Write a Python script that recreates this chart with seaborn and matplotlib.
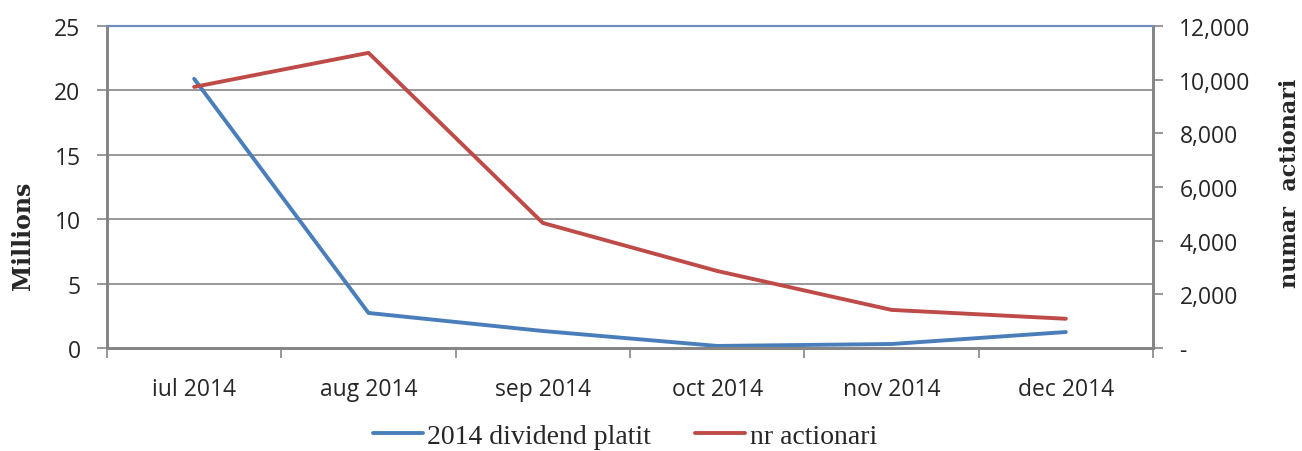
import matplotlib
matplotlib.use("Agg")
import matplotlib.pyplot as plt
import seaborn as sns
import pandas as pd
from matplotlib.ticker import FuncFormatter, FixedLocator

months = ["iul 2014", "aug 2014", "sep 2014", "oct 2014", "nov 2014", "dec 2014"]
dividend_millions = [20.9, 2.72, 1.32, 0.16, 0.31, 1.24]
nr_actionari = [9730, 11000, 4660, 2870, 1420, 1090]

sns.set_theme(style="white")
plt.rcParams['font.family'] = ['Open Sans', 'DejaVu Sans']

blue = "#4A7EBB"
red = "#BE4B48"
grid_gray = "#868686"

fig = plt.figure(figsize=(13.02, 4.52), dpi=100)
ax = fig.add_axes([107/1302, 1 - 349/452, (1153-107)/1302, (349-27)/452])
ax2 = ax.twinx()

df = pd.DataFrame({"month": months, "div": dividend_millions, "act": nr_actionari})
sns.lineplot(data=df, x="month", y="div", ax=ax, color=blue, lw=2.8, sort=False, label="2014 dividend platit", legend=False)
sns.lineplot(data=df, x="month", y="act", ax=ax2, color=red, lw=2.8, sort=False, label="nr actionari", legend=False)

ax.set_xlim(-0.5, 5.5)
ax.set_ylim(0, 25)
ax2.set_ylim(0, 12000)
ax.set_yticks([0, 5, 10, 15, 20, 25])
ax2.set_yticks([0, 2000, 4000, 6000, 8000, 10000, 12000])
ax2.yaxis.set_major_formatter(FuncFormatter(lambda v, p: "-" if v == 0 else f"{int(v):,}"))

ax.grid(axis="y", color=grid_gray, lw=1.2)
ax.grid(axis="x", visible=False)
ax2.grid(False)

ax.set_xticks(range(6))
ax.set_xticklabels(months)
ax.tick_params(axis="x", which="major", length=0, pad=21, labelsize=16.5)
ax.xaxis.set_minor_locator(FixedLocator([-0.5, 0.5, 1.5, 2.5, 3.5, 4.5, 5.5]))
ax.tick_params(axis="x", which="minor", bottom=True, length=7, width=1.2, color=grid_gray, direction="out")
ax.tick_params(axis="y", length=7, width=1.2, color=grid_gray, direction="out", labelsize=16.5, pad=12, left=True)
ax2.tick_params(axis="y", length=7, width=1.2, color=grid_gray, direction="out", labelsize=16.5, pad=12, right=True)

for a in (ax, ax2):
    for s in ["left", "bottom", "right"]:
        a.spines[s].set_color(grid_gray)
        a.spines[s].set_linewidth(2)
    a.spines["top"].set_color("#6E8DBA")
    a.spines["top"].set_linewidth(1.5)

ax.set_xlabel("")
ax.set_ylabel("Millions", family=["DejaVu Serif"], fontweight="bold", fontsize=17)
ax.yaxis.set_label_coords((35-107)/1046, (349-236)/322)
ax2.set_ylabel("numar  actionari", family=["DejaVu Serif"], fontweight="bold", fontsize=16, rotation=90)
ax2.yaxis.set_label_coords((1279-107)/1046, (349-183)/322)

h1, l1 = ax.get_legend_handles_labels()
h2, l2 = ax2.get_legend_handles_labels()
fig.legend(h1 + h2, l1 + l2, loc="center", bbox_to_anchor=(625/1302, 1 - 437/452), ncol=2,
           frameon=False, prop={"family": "Liberation Serif", "size": 20}, handlelength=1.8,
           columnspacing=1.6, handletextpad=0.15, borderpad=0.1)

fig.savefig("out.png", dpi=100)
